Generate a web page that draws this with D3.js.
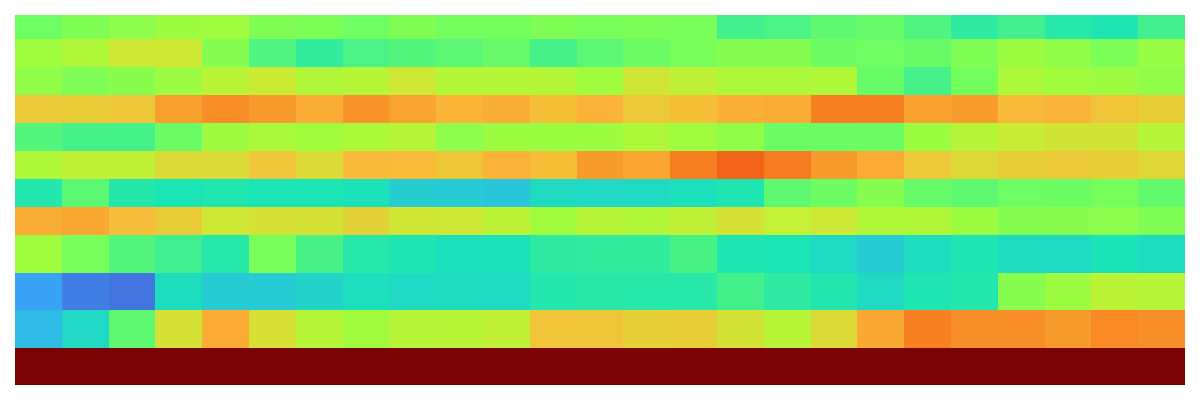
<!DOCTYPE html>
<html>
<head>
<meta charset="utf-8">
<script src="https://cdn.jsdelivr.net/npm/d3@7"></script>
<style>
  body { margin: 0; background: #fff; }
</style>
</head>
<body>
<script>
var columns = ["C1", "C2", "C3", "C4", "C5", "C6", "C7", "C8", "C9", "C10", "C11", "C12", "C13",
    "C14", "C15", "C16", "C17", "C18", "C19", "C20", "C21", "C22", "C23", "C24", "C25"];
var rows = ["R1", "R2", "R3", "R4", "R5", "R6", "R7", "R8", "R9", "R10", "R11", "R12"];

// one array per row, values on a 0-100 scale
var row1 = [44, 46, 47.5, 49, 49.5, 46, 45.5, 44, 46, 44.5, 44.5, 46, 45, 45.5, 45.2, 38.5, 39.5, 42, 43, 40, 36, 38.5, 35, 34, 38.5];
var row2 = [49.5, 52, 57, 57, 46.5, 40, 36.5, 39.5, 40.5, 41.5, 43, 39, 41.5, 43.5, 45.2, 46.5, 46.5, 43.7, 44, 43.2, 46, 49, 48, 45.5, 48.5];
var row3 = [48, 46, 47, 49, 53.5, 56.5, 52, 53, 57, 52.5, 52.5, 52.5, 49.5, 57.5, 54.5, 51.5, 51.5, 51.8, 43.2, 39, 44.7, 51.5, 49.7, 49, 48];
var row4 = [63.5, 63, 64, 70.5, 72.8, 71, 68.5, 72, 69.8, 67.3, 68.3, 65.5, 67.6, 63.5, 65.5, 68, 68.7, 75, 74.8, 70, 70.6, 66.7, 67.5, 64.5, 62.5];
var row5 = [40.5, 39, 39, 43.5, 49.2, 51, 49.7, 51.2, 52.8, 47.5, 49, 49, 49, 51.8, 49.5, 48, 43.7, 43.7, 43.7, 49, 53, 56, 57.8, 58, 53];
var row6 = [51.8, 54.5, 54.5, 59.7, 60, 64.2, 60, 66.7, 66.5, 64.3, 67.7, 65.5, 71, 69.4, 75, 79, 75.5, 71, 68.8, 63.8, 60.2, 62.5, 63.5, 62.5, 60.5];
var row7 = [34.5, 41.5, 34.7, 33.5, 34.2, 33.5, 33.5, 33, 29, 28.5, 27.5, 31.5, 31, 31.2, 32.5, 34, 42, 43.7, 46.8, 43, 42, 44, 43.7, 45, 42.5];
var row8 = [68.5, 69.2, 65.8, 62.8, 57, 58.5, 58.3, 61.7, 57.5, 57, 54, 49.7, 52.8, 52.3, 54.5, 58.2, 55, 56.8, 52, 52, 49, 46.5, 47, 47.3, 46];
var row9 = [49.5, 45, 40.5, 38, 35, 45, 39.2, 35, 34, 32.5, 33, 36, 36.2, 36.2, 39.3, 34, 33.5, 31.2, 28.5, 32, 34, 31.7, 31.2, 33.2, 31.8];
var row10 = [21, 15.5, 14, 32, 28.5, 28.5, 30, 32.2, 31.2, 31.6, 31.3, 34.5, 35.2, 35, 35, 38.6, 35.8, 34.3, 31.2, 34, 34.5, 46.8, 49, 54, 53];
var row11 = [25.5, 31, 42, 58.3, 68.8, 58.8, 52.8, 49.7, 52.8, 53.2, 54.5, 64.5, 64.5, 62, 62.5, 58, 53.2, 60, 69.2, 74.8, 72.8, 72.8, 71, 73.5, 72.8];
var row12 = [100, 100, 100, 100, 100, 100, 100, 100, 100, 100, 100, 100, 100, 100, 100, 100, 100, 100, 100, 100, 100, 100, 100, 100, 100];

var values = [row1, row2, row3, row4, row5, row6, row7, row8, row9, row10, row11, row12];

// turbo colour stops (position 0-1, colour)
var turboAt = [0, 1 / 9, 2 / 9, 3 / 9, 4 / 9, 0.5, 5 / 9, 6 / 9, 7 / 9, 8 / 9, 1];
var turbo = ["#30123b", "#4662d7", "#36aaf9", "#1ae4b6", "#72fe5e", "#a4fc3c", "#c7ef34", "#faba39", "#f66b19", "#cb2a04", "#7a0403"];

// relative row heights (rows are not all the same height)
var rowWeights = [24, 28, 28, 28, 28, 28, 28, 28, 37.5, 37.5, 37.5, 37.5];

var width = 1200;
var height = 400;
var margin = 15;

var svg = d3.select("body").append("svg")
    .attr("width", width)
    .attr("height", height);

var xScale = d3.scaleBand()
    .domain(columns)
    .range([margin, width - margin])
    .padding(0);

var edges = [0].concat(Array.from(d3.cumsum(rowWeights)));
var yScale = d3.scaleLinear()
    .domain([0, d3.sum(rowWeights)])
    .range([margin, height - margin]);

var color = d3.scaleLinear()
    .domain(turboAt.map(function(t) { return t * 100; }))
    .range(turbo)
    .interpolate(d3.interpolateRgb)
    .clamp(true);

var cells = [];
values.forEach(function(r, i) {
    r.forEach(function(v, j) {
        cells.push({ row: i, col: columns[j], value: v });
    });
});

svg.append("g")
    .selectAll("rect")
    .data(cells)
    .enter()
    .append("rect")
    .attr("x", function(d) { return xScale(d.col); })
    .attr("y", function(d) { return yScale(edges[d.row]); })
    .attr("width", xScale.bandwidth())
    .attr("height", function(d) { return yScale(edges[d.row + 1]) - yScale(edges[d.row]); })
    .attr("fill", function(d) { return color(d.value); })
    .attr("shape-rendering", "crispEdges");
</script>
</body>
</html>
